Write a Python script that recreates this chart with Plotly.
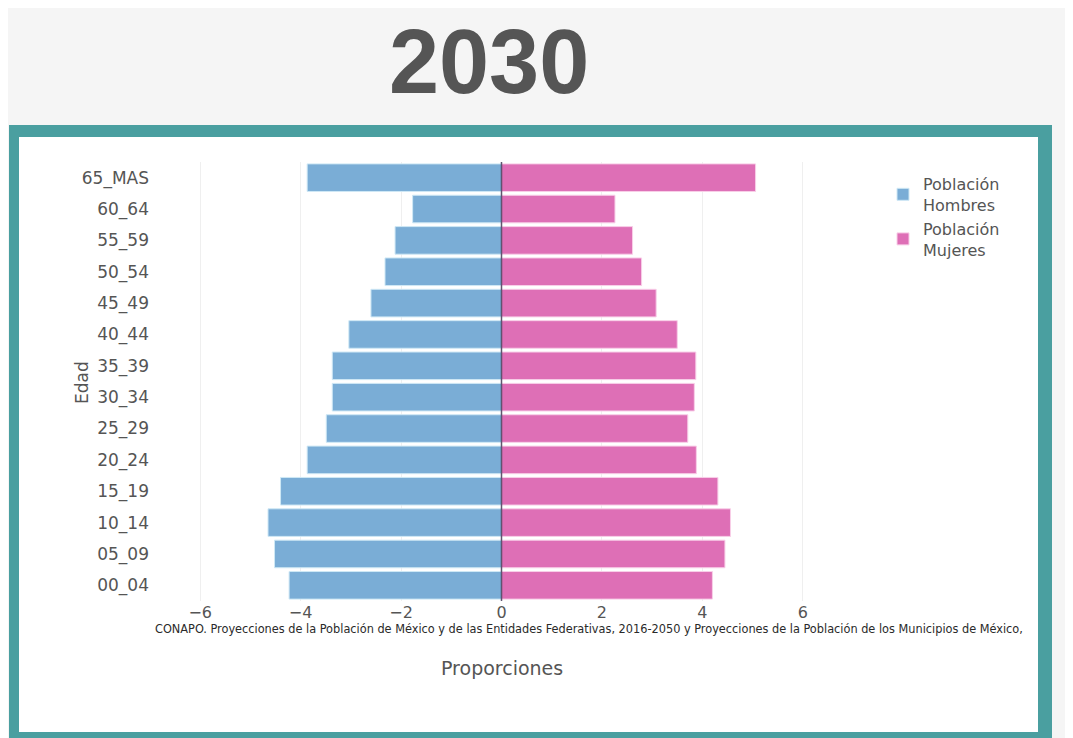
import plotly.graph_objects as go

edades = ["00_04", "05_09", "10_14", "15_19", "20_24", "25_29", "30_34",
          "35_39", "40_44", "45_49", "50_54", "55_59", "60_64", "65_MAS"]
hombres = [-4.23, -4.52, -4.65, -4.40, -3.87, -3.49, -3.37,
           -3.37, -3.04, -2.60, -2.32, -2.12, -1.77, -3.87]
mujeres = [4.20, 4.45, 4.56, 4.31, 3.88, 3.71, 3.84,
           3.87, 3.50, 3.08, 2.79, 2.61, 2.26, 5.06]
x_ticks = [-6, -4, -2, 0, 2, 4, 6]

OFF = 8  # page body margin
W, H = 1073 - OFF, 738 - OFF
L, T = 150 - OFF, 162 - OFF
R = W - (853 - OFF)
B = H - (601 - OFF)
pw, ph = W - L - R, H - T - B


def px(x):
    return (x - OFF - L) / pw


def py(y):
    return (H - B - (y - OFF)) / ph


fig = go.Figure()
fig.add_trace(go.Bar(
    y=edades, x=hombres, orientation="h", name="Población<br>Hombres",
    marker=dict(color="#7aadd6", line=dict(color="#cfe8f5", width=1)),
))
fig.add_trace(go.Bar(
    y=edades, x=mujeres, orientation="h", name="Población<br>Mujeres",
    marker=dict(color="#de6fb6", line=dict(color="#f8cfe8", width=1)),
))

shapes = [
    dict(type="rect", xref="paper", yref="paper", layer="below",
         x0=px(9), x1=px(1052), y0=py(750), y1=py(125),
         fillcolor="#4a9fa0", line=dict(width=0)),
    dict(type="rect", xref="paper", yref="paper", layer="below",
         x0=px(19), x1=px(1038), y0=py(732), y1=py(137),
         fillcolor="#ffffff", line=dict(width=0)),
    dict(type="line", xref="x", yref="paper", layer="above",
         x0=0, x1=0, y0=0, y1=1,
         line=dict(color="rgba(70,60,90,0.85)", width=1.5)),
]

annotations = [
    dict(text="<b>2030</b>", x=px(489), y=py(62), xref="paper", yref="paper",
         showarrow=False, xanchor="center", yanchor="middle",
         font=dict(family="Liberation Sans", size=90, color="#555555")),
    dict(text="CONAPO. Proyecciones de la Población de México y de las Entidades Federativas, 2016-2050 y Proyecciones de la Población de los Municipios de México,",
         x=px(153), y=py(628), xref="paper", yref="paper", showarrow=False,
         xanchor="left", yanchor="middle",
         font=dict(family="DejaVu Sans Condensed", size=12.6, color="#2a2a2a")),
    dict(text="Proporciones", x=px(502), y=py(668), xref="paper", yref="paper",
         showarrow=False, xanchor="center", yanchor="middle",
         font=dict(family="DejaVu Sans", size=19, color="#555555")),
    dict(text="Edad", x=px(82), y=py(383), xref="paper", yref="paper",
         showarrow=False, xanchor="center", yanchor="middle", textangle=-90,
         font=dict(family="DejaVu Sans", size=17, color="#555555")),
]

fig.update_layout(
    width=W, height=H,
    margin=dict(l=L, r=R, t=T, b=B, pad=0),
    paper_bgcolor="#f5f5f5",
    plot_bgcolor="rgba(0,0,0,0)",
    barmode="relative",
    bargap=0.12,
    shapes=shapes,
    annotations=annotations,
    showlegend=True,
    legend=dict(x=px(883), y=py(167), xanchor="left", yanchor="top",
                traceorder="normal", bgcolor="rgba(0,0,0,0)",
                font=dict(family="DejaVu Sans", size=16, color="#555555")),
    font=dict(family="DejaVu Sans", color="#555555"),
)
fig.update_xaxes(range=[-7, 7], tickvals=x_ticks,
                 ticktext=[("−" + str(-v)) if v < 0 else str(v) for v in x_ticks],
                 showgrid=True, gridcolor="#efefef", zeroline=False,
                 tickfont=dict(family="DejaVu Sans", size=16, color="#555555"))
fig.update_yaxes(type="category", categoryorder="array", categoryarray=edades,
                 showgrid=False, zeroline=False, ticks="", ticklabelstandoff=0,
                 tickfont=dict(family="DejaVu Sans", size=17, color="#555555"))

fig.write_html("out.html")
